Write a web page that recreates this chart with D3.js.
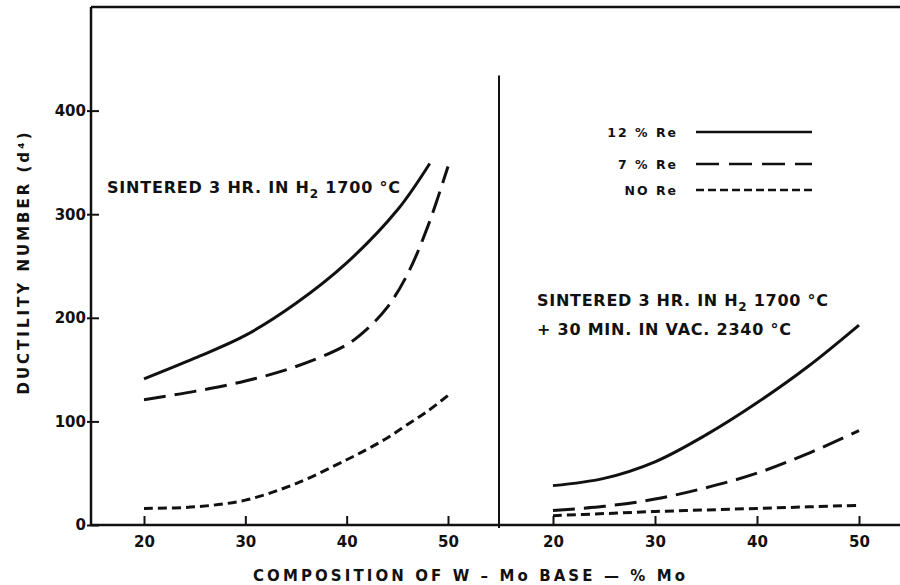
<!DOCTYPE html>
<html>
<head>
<meta charset="utf-8">
<script src="https://cdn.jsdelivr.net/npm/d3@7"></script>
<style>
  body { margin: 0; background: #fff; }
  svg text { font-family: "DejaVu Sans", sans-serif; font-weight: bold; fill: #111; }
</style>
</head>
<body>
<div id="chart"></div>
<script>
// composition, % Mo
var moLeft = [20, 25, 30, 35, 40, 42, 44, 46, 48, 50];
var moRight = [20, 25, 30, 35, 40, 45, 50];

// left panel: sintered 3 hr in H2 at 1700 C
var leftRe12 = [[20, 141], [25, 161], [30, 183], [35, 214], [40, 253], [45, 304], [48.2, 349]];
var leftRe7 = [121, 129, 139, 153, 174, 189, 210, 242, 288, 346];
var leftNoRe = [16, 17.5, 24, 40, 63, 73, 84, 97, 110, 125];

// right panel: + 30 min in vacuum at 2340 C
var rightRe12 = [38, 45, 61, 87, 118, 153, 193];
var rightRe7 = [14, 18, 25, 36, 50, 69, 91];
var rightNoRe = [9, 11, 13, 14.5, 16, 17.5, 19];

var yTicks = [0, 100, 200, 300, 400];
var xTicks = [20, 30, 40, 50];

var legendLabels = ["12 % Re", "7 % Re", "NO Re"];
var dashes = ["none", "22,9", "9,5"];

var width = 900, height = 585;

var svg = d3.select("#chart").append("svg")
  .attr("width", width)
  .attr("height", height);

var y = d3.scaleLinear().domain([0, 500]).range([525, 7]);
var xL = d3.scaleLinear().domain([20, 50]).range([144, 448]);
var xR = d3.scaleLinear().domain([20, 50]).range([553, 859]);

// frame: left axis, top line, baseline, panel divider
svg.append("line").attr("x1", 91).attr("x2", 91).attr("y1", y(500)).attr("y2", y(0))
  .attr("stroke", "#111").attr("stroke-width", 2.5);
svg.append("line").attr("x1", 91).attr("x2", 900).attr("y1", y(500)).attr("y2", y(500))
  .attr("stroke", "#111").attr("stroke-width", 2.5);
svg.append("line").attr("x1", 91).attr("x2", 900).attr("y1", y(0)).attr("y2", y(0))
  .attr("stroke", "#111").attr("stroke-width", 2.5);
svg.append("line").attr("x1", 499).attr("x2", 499).attr("y1", y(434)).attr("y2", y(0) + 3)
  .attr("stroke", "#111").attr("stroke-width", 2);

// y axis
var yAxis = svg.append("g")
  .attr("transform", "translate(91,0)")
  .call(d3.axisLeft(y).tickValues(yTicks).tickSizeOuter(0).tickPadding(6));
yAxis.select(".domain").remove();
yAxis.selectAll(".tick line").attr("x1", -4).attr("x2", 8)
  .attr("stroke", "#111").attr("stroke-width", 2);
yAxis.selectAll(".tick text").attr("x", -5).attr("font-size", 15)
  .attr("font-family", "DejaVu Sans").attr("fill", "#111");

// x axes, ticks pointing up into the plot
[xL, xR].forEach(function(sc) {
  var g = svg.append("g")
    .attr("transform", "translate(0," + y(0) + ")")
    .call(d3.axisBottom(sc).tickValues(xTicks).tickSizeInner(-9).tickSizeOuter(0));
  g.select(".domain").remove();
  g.selectAll(".tick line").attr("stroke", "#111").attr("stroke-width", 2);
  g.selectAll(".tick text").attr("y", 11).attr("dy", "0.71em").attr("font-size", 15)
    .attr("font-family", "DejaVu Sans").attr("fill", "#111");
});

// curves
var curves = [
  { sc: xL, pts: leftRe12, dash: dashes[0] },
  { sc: xL, pts: moLeft.map(function(m, i) { return [m, leftRe7[i]]; }), dash: dashes[1] },
  { sc: xL, pts: moLeft.map(function(m, i) { return [m, leftNoRe[i]]; }), dash: dashes[2] },
  { sc: xR, pts: moRight.map(function(m, i) { return [m, rightRe12[i]]; }), dash: dashes[0] },
  { sc: xR, pts: moRight.map(function(m, i) { return [m, rightRe7[i]]; }), dash: dashes[1] },
  { sc: xR, pts: moRight.map(function(m, i) { return [m, rightNoRe[i]]; }), dash: dashes[2] }
];

curves.forEach(function(c) {
  var line = d3.line()
    .x(function(d) { return c.sc(d[0]); })
    .y(function(d) { return y(d[1]); })
    .curve(d3.curveCatmullRom.alpha(0.5));
  svg.append("path")
    .datum(c.pts)
    .attr("d", line)
    .attr("fill", "none")
    .attr("stroke", "#111")
    .attr("stroke-width", 3)
    .attr("stroke-dasharray", c.dash);
});

// legend
var legendY = [132, 164, 190];
var legend = svg.selectAll(".legend").data(legendLabels).enter()
  .append("g").attr("class", "legend")
  .attr("transform", function(d, i) { return "translate(0," + legendY[i] + ")"; });
legend.append("text")
  .attr("x", 678).attr("y", 5)
  .attr("text-anchor", "end")
  .attr("font-size", 12.5)
  .style("letter-spacing", "2px")
  .text(function(d) { return d; });
legend.append("line")
  .attr("x1", 696).attr("x2", 812)
  .attr("stroke", "#111").attr("stroke-width", 2.5)
  .attr("stroke-dasharray", function(d, i) { return i === 0 ? "none" : (i === 1 ? "23,10" : "8,4"); });

// annotations
function sinteredText(x, yb, len) {
  var t = svg.append("text").attr("x", x).attr("y", yb).attr("font-size", 16)
    .attr("textLength", len).attr("lengthAdjust", "spacing");
  t.append("tspan").text("SINTERED 3 HR. IN H");
  t.append("tspan").attr("dy", 5).attr("font-size", 12).text("2");
  t.append("tspan").attr("dy", -5).text("  1700 °C");
  return t;
}
sinteredText(107, 193, 293);
sinteredText(537, 306, 291);
svg.append("text").attr("x", 537).attr("y", 335).attr("font-size", 16)
  .attr("textLength", 254).attr("lengthAdjust", "spacing")
  .text("+ 30 MIN. IN VAC. 2340 °C");

// axis titles
svg.append("text")
  .attr("transform", "translate(29,262) rotate(-90)")
  .attr("text-anchor", "middle")
  .attr("font-size", 15)
  .style("letter-spacing", "3px")
  .text("DUCTILITY NUMBER (d⁴)");

svg.append("text")
  .attr("x", 253).attr("y", 581)
  .attr("font-size", 15)
  .attr("textLength", 432).attr("lengthAdjust", "spacing")
  .text("COMPOSITION  OF  W – Mo  BASE —  % Mo");
</script>
</body>
</html>
